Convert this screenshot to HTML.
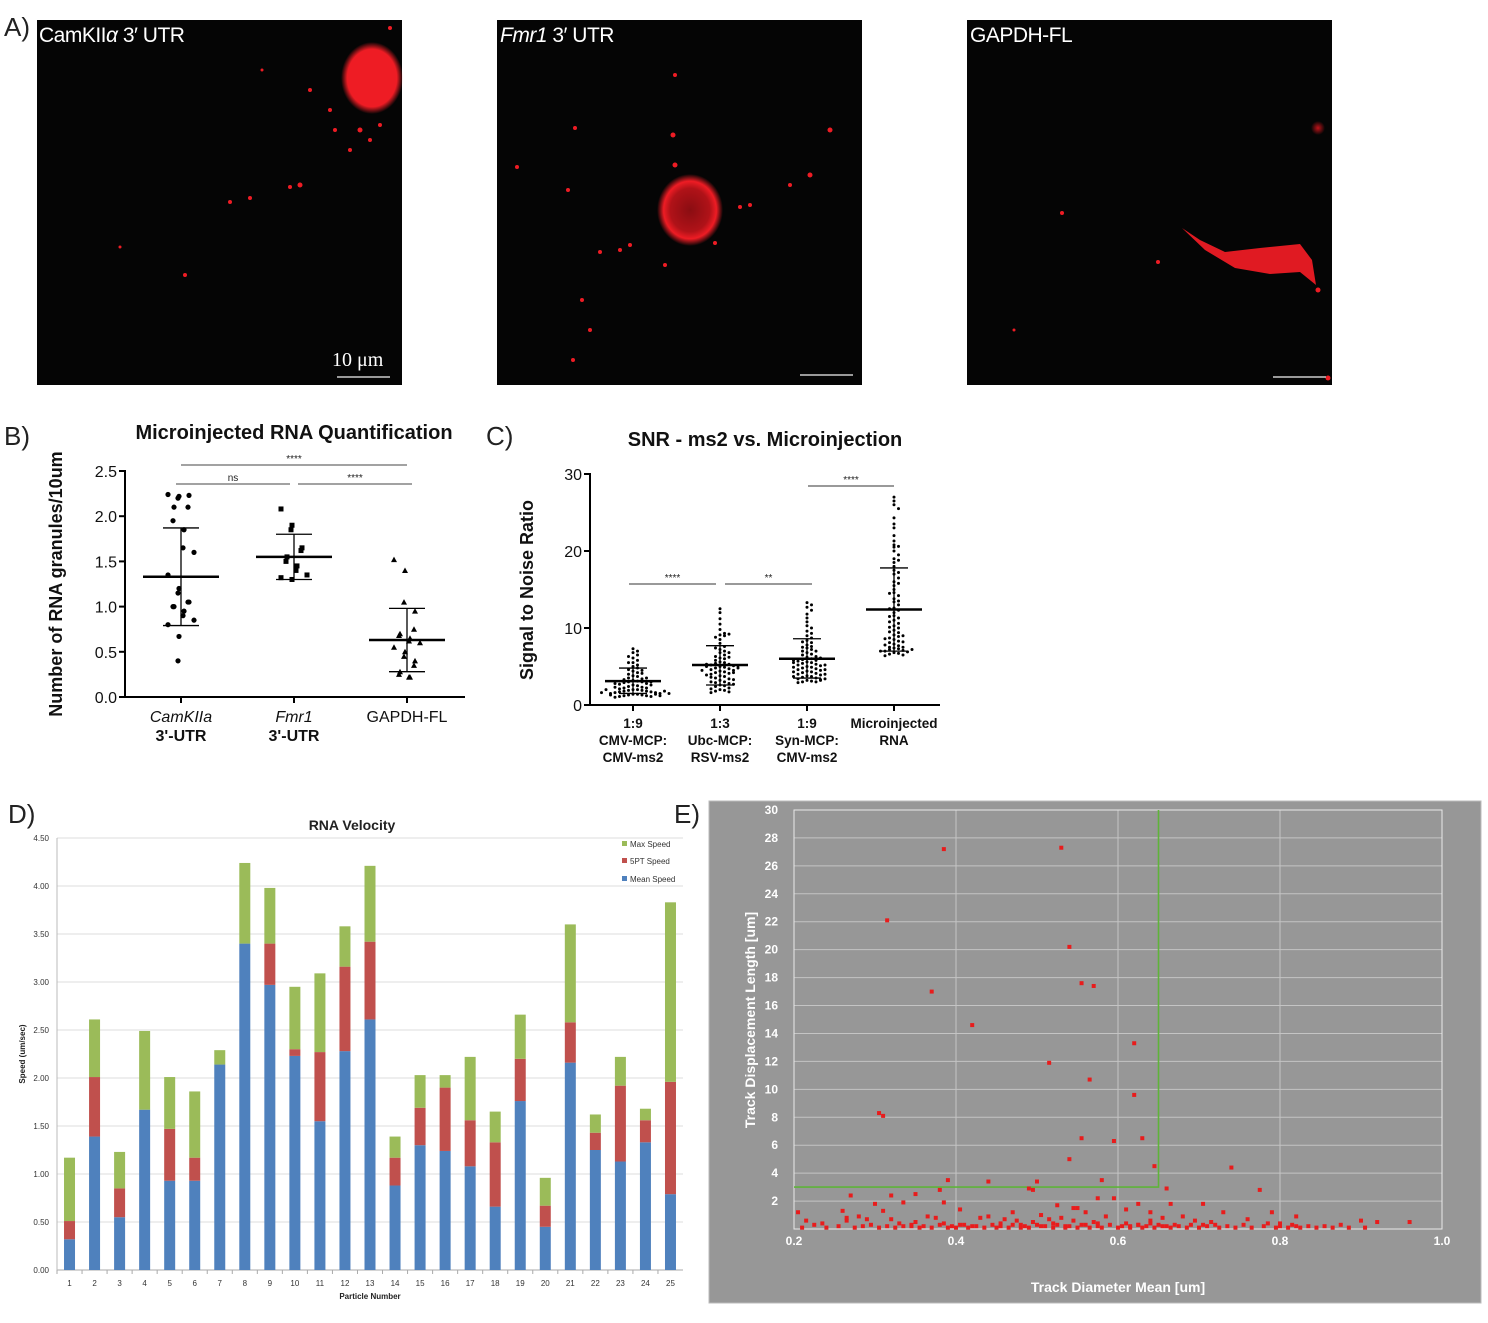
<!DOCTYPE html>
<html><head><meta charset="utf-8"><style>
html,body{margin:0;padding:0;background:#fff;}
svg{display:block;font-family:"Liberation Sans",sans-serif;}
</style></head><body>
<svg id="fig" width="1488" height="1323" viewBox="0 0 1488 1323" xmlns="http://www.w3.org/2000/svg">
<defs>
<radialGradient id="gBlob"><stop offset="0" stop-color="#ee1c24"/><stop offset="0.8" stop-color="#ee1c24"/><stop offset="1" stop-color="#ee1c24" stop-opacity="0"/></radialGradient>
<radialGradient id="gRing"><stop offset="0" stop-color="#8a0d12"/><stop offset="0.6" stop-color="#b01218"/><stop offset="0.8" stop-color="#ee1c24"/><stop offset="1" stop-color="#ee1c24" stop-opacity="0"/></radialGradient>
<radialGradient id="gDim"><stop offset="0" stop-color="#c0141a"/><stop offset="1" stop-color="#c0141a" stop-opacity="0"/></radialGradient>
</defs>
<!-- Panel A -->
<g>
<text x="4" y="36" font-size="26" fill="#222">A)</text>
<rect x="37" y="20" width="365" height="365" fill="#050505"/>
<rect x="497" y="20" width="365" height="365" fill="#050505"/>
<rect x="967" y="20" width="365" height="365" fill="#050505"/>
<ellipse cx="372" cy="78" rx="31" ry="36" fill="url(#gBlob)"/>
<ellipse cx="690" cy="210" rx="33" ry="36" fill="url(#gRing)"/>
<path d="M1182 228 L1200 240 L1225 252 L1260 248 L1300 244 L1312 260 L1316 285 L1300 272 L1270 274 L1235 268 L1205 250 Z" fill="#e01a22"/>
<circle cx="1318" cy="128" r="7" fill="url(#gDim)"/>
<g fill="#ee1c24">
<circle cx="360" cy="130" r="2.5"/><circle cx="350" cy="150" r="2"/><circle cx="370" cy="140" r="2"/><circle cx="380" cy="125" r="2"/><circle cx="310" cy="90" r="2"/><circle cx="300" cy="185" r="2.5"/><circle cx="290" cy="187" r="2"/><circle cx="250" cy="198" r="2"/><circle cx="230" cy="202" r="2"/><circle cx="185" cy="275" r="2"/><circle cx="120" cy="247" r="1.5"/><circle cx="390" cy="28" r="2"/><circle cx="330" cy="110" r="2"/><circle cx="262" cy="70" r="1.5"/><circle cx="335" cy="130" r="2"/>
<circle cx="675" cy="75" r="2"/><circle cx="673" cy="135" r="2.5"/><circle cx="675" cy="165" r="2.5"/><circle cx="830" cy="130" r="2.5"/><circle cx="810" cy="175" r="2.5"/><circle cx="790" cy="185" r="2"/><circle cx="750" cy="205" r="2"/><circle cx="740" cy="207" r="2"/><circle cx="630" cy="245" r="2"/><circle cx="620" cy="250" r="2"/><circle cx="600" cy="252" r="2"/><circle cx="582" cy="300" r="2"/><circle cx="590" cy="330" r="2"/><circle cx="575" cy="128" r="2"/><circle cx="715" cy="243" r="2"/><circle cx="665" cy="265" r="2"/><circle cx="573" cy="360" r="2"/><circle cx="517" cy="167" r="2"/><circle cx="568" cy="190" r="2"/>
<circle cx="1158" cy="262" r="2"/><circle cx="1062" cy="213" r="2"/><circle cx="1318" cy="290" r="2.5"/><circle cx="1328" cy="378" r="2.5"/><circle cx="1014" cy="330" r="1.5"/>
</g>
<text x="39" y="42" font-size="21" fill="#fff" letter-spacing="-0.5">CamKII<tspan font-style="italic">α</tspan> 3′ UTR</text>
<text x="500" y="42" font-size="21" fill="#fff" letter-spacing="-0.5"><tspan font-style="italic">Fmr1</tspan> 3′ UTR</text>
<text x="970" y="42" font-size="21" fill="#fff" letter-spacing="-0.5">GAPDH-FL</text>
<text x="332" y="366" font-size="20" fill="#fff" font-family="Liberation Serif,serif">10 μm</text>
<line x1="337" y1="377" x2="390" y2="377" stroke="#ccc" stroke-width="1.5"/>
<line x1="800" y1="375" x2="853" y2="375" stroke="#ccc" stroke-width="1.5"/>
<line x1="1273" y1="377" x2="1326" y2="377" stroke="#ccc" stroke-width="1.5"/>
</g>
<g id="pB"></g>
<g id="pC"></g>
<g id="pD"></g>
<g id="pE"></g>
</svg>
<script>
// ---------- Panel B data ----------
var bCategories = ["CamKIIa", "Fmr1", "GAPDH-FL"];
var bCamk = [2.24,2.22,2.20,2.23,2.10,2.10,1.95,1.85,1.65,1.60,1.35,1.20,1.15,1.05,1.05,1.00,1.00,0.95,0.90,0.85,0.80,0.67,0.40];
var bFmr1 = [2.08,1.90,1.85,1.65,1.62,1.55,1.50,1.45,1.40,1.35,1.32,1.30];
var bGapdh = [1.52,1.40,1.05,0.95,0.75,0.70,0.68,0.65,0.62,0.60,0.55,0.50,0.45,0.40,0.35,0.28,0.25,0.22,0.22];
var bMeans = [1.33,1.55,0.63];
var bLow = [0.79,1.30,0.28];
var bHigh = [1.87,1.80,0.98];
var bTicks = [0,0.5,1.0,1.5,2.0,2.5];
// ---------- Panel C data ----------
var cMeans = [3.1,5.2,6.0,12.4];
var cLow = [1.5,2.6,3.5,7.0];
var cHigh = [4.8,7.7,8.6,17.8];
var cTicks = [0,10,20,30];
var cG1 = [7.3,7.0,6.8,6.5,6.3,6.1,5.8,5.5,5.2,5.0,4.8,4.6,4.4,4.2,4.0,3.8,3.7,3.5,3.4,3.3,3.2,3.1,3.0,3.0,2.9,2.8,2.7,2.6,2.5,2.4,2.3,2.2,2.2,2.1,2.0,2.0,1.9,1.9,1.8,1.8,1.7,1.7,1.6,1.6,1.5,1.5,1.4,1.4,1.3,1.3,1.2,1.2,1.1,1.1,1.0,2.6,2.3,2.0,1.8,1.6,1.5,1.4,1.3,1.2,3.5,3.0,2.8,4.1,4.5,5.5];
var cG2 = [12.5,12.0,11.2,10.5,9.8,9.3,9.1,9.0,8.8,8.5,8.0,7.6,7.2,7.0,6.8,6.5,6.3,6.1,6.0,5.8,5.6,5.5,5.4,5.3,5.2,5.1,5.0,4.9,4.8,4.7,4.6,4.5,4.4,4.3,4.2,4.1,4.0,3.8,3.7,3.5,3.4,3.2,3.0,2.9,2.8,2.6,2.5,2.4,2.2,2.1,2.0,1.9,1.8,1.7,1.6,5.3,5.1,5.0,4.8,4.5,4.2,3.9,3.6,3.3,3.0,2.7,6.2,6.8,7.4,9.2];
var cG3 = [13.3,13.0,12.7,12.3,11.8,11.3,10.8,10.3,10.0,9.6,9.3,9.0,8.7,8.4,8.1,7.8,7.6,7.4,7.2,7.0,6.8,6.6,6.5,6.3,6.2,6.0,5.9,5.8,5.7,5.6,5.5,5.4,5.3,5.2,5.1,5.0,4.9,4.8,4.7,4.6,4.5,4.4,4.3,4.2,4.1,4.0,3.9,3.8,3.7,3.6,3.5,3.4,3.3,3.2,3.1,3.0,3.0,2.9,6.1,5.8,5.5,5.2,4.9,4.6,4.3,4.0,3.7,3.4,3.2,7.0,7.5,8.2];
var cG4 = [27.0,26.5,26.0,25.5,24.3,23.5,23.0,22.0,21.3,20.8,20.5,20.0,19.5,19.0,18.5,18.0,17.5,17.0,16.5,16.0,15.5,15.0,14.6,14.2,13.8,13.4,13.0,12.6,12.3,12.0,11.6,11.3,11.0,10.6,10.3,10.0,9.7,9.4,9.1,8.9,8.7,8.5,8.3,8.1,7.9,7.7,7.5,7.4,7.3,7.2,7.1,7.0,6.9,6.8,6.7,6.6,6.5,6.4,7.0,7.2,7.5,7.8,8.2,8.6,9.0,9.5,10.1,10.8,11.5,12.5,13.5,14.5,15.8,17.2,18.8,20.6];
// ---------- Panel D data ----------
var dParticles = [1,2,3,4,5,6,7,8,9,10,11,12,13,14,15,16,17,18,19,20,21,22,23,24,25];
var dMean = [0.32,1.39,0.55,1.67,0.93,0.93,2.14,3.40,2.97,2.23,1.55,2.28,2.61,0.88,1.30,1.24,1.08,0.66,1.76,0.45,2.16,1.25,1.13,1.33,0.79];
var d5pt = [0.51,2.01,0.85,1.67,1.47,1.17,2.14,3.40,3.40,2.30,2.27,3.16,3.42,1.17,1.69,1.90,1.56,1.33,2.20,0.67,2.58,1.43,1.92,1.56,1.96];
var dMax = [1.17,2.61,1.23,2.49,2.01,1.86,2.29,4.24,3.98,2.95,3.09,3.58,4.21,1.39,2.03,2.03,2.22,1.65,2.66,0.96,3.60,1.62,2.22,1.68,3.83];
var dTicks = [0,0.5,1.0,1.5,2.0,2.5,3.0,3.5,4.0,4.5];
// ---------- Panel E data ----------
var eTicksX = [0.2,0.4,0.6,0.8,1.0];
var eTicksY = [2,4,6,8,10,12,14,16,18,20,22,24,26,28,30];
var eX = [0.385,0.53,0.315,0.54,0.37,0.555,0.57,0.42,0.62,0.515,0.565,0.62,0.305,0.31,0.555,0.595,0.63,0.54,0.645,0.74,0.39,0.44,0.50,0.58,0.38,0.49,0.495,0.775,0.27,0.32,0.35,0.66,0.575,0.595,0.30,0.335,0.385,0.525,0.545,0.55,0.625,0.665,0.705,0.205,0.26,0.29,0.31,0.405,0.43,0.47,0.505,0.56,0.61,0.64,0.73,0.79,0.82,0.90,0.96,
0.21,0.225,0.24,0.255,0.265,0.275,0.285,0.295,0.305,0.315,0.325,0.335,0.345,0.355,0.36,0.37,0.38,0.39,0.395,0.40,0.41,0.415,0.425,0.435,0.445,0.45,0.455,0.465,0.47,0.48,0.485,0.49,0.50,0.51,0.52,0.525,0.535,0.54,0.55,0.56,0.565,0.575,0.58,0.59,0.60,0.605,0.615,0.625,0.63,0.635,0.645,0.65,0.655,0.665,0.675,0.685,0.69,0.70,0.71,0.72,0.725,0.735,0.745,0.755,0.765,0.78,0.785,0.795,0.80,0.81,0.815,0.825,0.835,0.845,0.855,0.865,0.875,0.885,0.905,0.92,
0.215,0.235,0.265,0.28,0.32,0.35,0.365,0.375,0.44,0.46,0.475,0.495,0.515,0.53,0.545,0.57,0.585,0.61,0.64,0.655,0.68,0.695,0.715,0.76,0.80,0.82,
0.33,0.345,0.385,0.405,0.42,0.455,0.48,0.505,0.52,0.535,0.555,0.575,0.615,0.625,0.64,0.66,0.67,0.705];
var eY = [27.2,27.3,22.1,20.2,17.0,17.6,17.4,14.6,13.3,11.9,10.7,9.6,8.3,8.1,6.5,6.3,6.5,5.0,4.5,4.4,3.5,3.4,3.4,3.5,2.8,2.9,2.8,2.8,2.4,2.4,2.5,2.9,2.2,2.2,1.8,1.9,1.9,1.7,1.5,1.5,1.8,1.8,1.8,1.2,1.3,0.7,1.3,1.4,0.8,1.2,1.0,1.2,1.4,1.2,1.2,1.2,0.9,0.6,0.5,
0.1,0.3,0.1,0.2,0.6,0.1,0.2,0.3,0.1,0.2,0.1,0.2,0.3,0.1,0.2,0.1,0.3,0.1,0.2,0.1,0.3,0.1,0.2,0.1,0.3,0.1,0.2,0.1,0.3,0.1,0.2,0.1,0.3,0.2,0.1,0.3,0.1,0.2,0.1,0.3,0.1,0.2,0.1,0.3,0.1,0.2,0.1,0.3,0.1,0.2,0.1,0.3,0.2,0.1,0.2,0.1,0.3,0.1,0.2,0.3,0.1,0.2,0.1,0.3,0.1,0.2,0.4,0.1,0.2,0.1,0.3,0.1,0.2,0.1,0.2,0.1,0.3,0.1,0.1,
0.5,0.6,0.4,0.8,0.9,0.7,0.5,0.9,0.8,0.9,0.7,0.6,0.5,0.7,0.8,0.6,0.5,0.9,0.4,0.6,0.8,0.9,0.6,0.5,0.7,0.4,
0.2,0.4,0.2,0.4,0.3,0.2,0.4,0.3,0.2,0.4,0.2,0.3,0.4,0.2,0.3,0.4,0.2,0.3,0.3];

var NS = "http://www.w3.org/2000/svg";
function mk(parent, tag, attrs, text){
  var e = document.createElementNS(NS, tag);
  for (var k in attrs) e.setAttribute(k, attrs[k]);
  if (text !== undefined) e.textContent = text;
  parent.appendChild(e);
  return e;
}

// ================= Panel B =================
(function(){
  var g = document.getElementById('pB');
  var x0 = 125, y0 = 697, yTop = 471, yMax = 2.5;
  function yS(v){ return y0 - v/yMax*(y0-yTop); }
  var cx = [181, 294, 407];
  var t = mk(g,'text',{x:4,y:445,'font-size':26,fill:'#222'},'B)');
   
  t = mk(g,'text',{x:294,y:439,'font-size':20,'font-weight':'bold','text-anchor':'middle',fill:'#111'},'Microinjected RNA Quantification');
   
  t = mk(g,'text',{x:62,y:584,'font-size':18,'font-weight':'bold','text-anchor':'middle',fill:'#111',transform:'rotate(-90 62 584)'},'Number of  RNA granules/10um');
   
  var ax = mk(g,'path',{d:'M'+x0+' '+(yTop-1)+' V'+y0+' H465',stroke:'#000','stroke-width':2,fill:'none'});
   
  bTicks.forEach(function(v){
    var y = yS(v);
    var l = mk(g,'line',{x1:x0-6,y1:y,x2:x0,y2:y,stroke:'#000','stroke-width':2});
     
    var tl = mk(g,'text',{x:x0-8,y:y+6,'font-size':16,'text-anchor':'end',fill:'#111'},v.toFixed(1));
     
  });
  var labels = [['CamKIIa','3\'-UTR',true],['Fmr1','3\'-UTR',true],['GAPDH-FL','',false]];
  cx.forEach(function(x,i){
    var l = mk(g,'line',{x1:x,y1:y0,x2:x,y2:y0+6,stroke:'#000','stroke-width':2});
     
    var a = mk(g,'text',{x:x,y:722,'font-size':16,'text-anchor':'middle',fill:'#111','font-style':labels[i][2]?'italic':'normal'},labels[i][0]);
     
    if (labels[i][1]) { var b2 = mk(g,'text',{x:x,y:741,'font-size':16,'text-anchor':'middle','font-weight':'bold',fill:'#111'},labels[i][1]);
        }
  });
  var groups = [bCamk,bFmr1,bGapdh];
  groups.forEach(function(arr,gi){
    arr.forEach(function(v,i){
      var off = ((i%5)-2)*5 + ((i%2)?3:-3);
      var px = cx[gi]+off, py = yS(v), m;
      if (gi===0) m = mk(g,'circle',{cx:px,cy:py,r:2.6,fill:'#000'});
      else if (gi===1) m = mk(g,'rect',{x:px-2.5,y:py-2.5,width:5,height:5,fill:'#000'});
      else m = mk(g,'path',{d:'M'+px+' '+(py-3)+' L'+(px+3)+' '+(py+2.5)+' L'+(px-3)+' '+(py+2.5)+' Z',fill:'#000'});
       
    });
    var mn = mk(g,'line',{x1:cx[gi]-38,x2:cx[gi]+38,y1:yS(bMeans[gi]),y2:yS(bMeans[gi]),stroke:'#000','stroke-width':2.5});
     
    var e = mk(g,'path',{d:'M'+cx[gi]+' '+yS(bLow[gi])+' V'+yS(bHigh[gi])+' M'+(cx[gi]-18)+' '+yS(bLow[gi])+' h36 M'+(cx[gi]-18)+' '+yS(bHigh[gi])+' h36',stroke:'#000','stroke-width':1.3,fill:'none'});
     
  });
  var sig = [[181,407,465,'****'],[176,290,484,'ns'],[298,412,484,'****']];
  sig.forEach(function(s){
    var l = mk(g,'line',{x1:s[0],x2:s[1],y1:s[2],y2:s[2],stroke:'#444','stroke-width':1});
     
    var tx = mk(g,'text',{x:(s[0]+s[1])/2,y:s[2]-3,'font-size':10,'text-anchor':'middle',fill:'#222'},s[3]);
     
  });
})();

// ================= Panel C =================
(function(){
  var g = document.getElementById('pC');
  var x0 = 590, y0 = 705, yTop = 474, yMax = 30;
  function yS(v){ return y0 - v/yMax*(y0-yTop); }
  var cx = [633,720,807,894];
  var t = mk(g,'text',{x:486,y:445,'font-size':26,fill:'#222'},'C)');
   
  t = mk(g,'text',{x:765,y:446,'font-size':20,'font-weight':'bold','text-anchor':'middle',fill:'#111'},'SNR - ms2 vs. Microinjection');
   
  t = mk(g,'text',{x:533,y:590,'font-size':18,'font-weight':'bold','text-anchor':'middle',fill:'#111',transform:'rotate(-90 533 590)'},'Signal to Noise  Ratio');
   
  var ax = mk(g,'path',{d:'M'+x0+' '+(yTop-1)+' V'+y0+' H940',stroke:'#000','stroke-width':2,fill:'none'});
   
  cTicks.forEach(function(v){
    var y = yS(v);
    var l = mk(g,'line',{x1:x0-6,y1:y,x2:x0,y2:y,stroke:'#000','stroke-width':2});
     
    var tl = mk(g,'text',{x:x0-8,y:y+6,'font-size':16,'text-anchor':'end',fill:'#111'},String(v));
     
  });
  var labs = [['1:9','CMV-MCP:','CMV-ms2'],['1:3','Ubc-MCP:','RSV-ms2'],['1:9','Syn-MCP:','CMV-ms2'],['Microinjected','RNA','']];
  cx.forEach(function(x,i){
    var l = mk(g,'line',{x1:x,y1:y0,x2:x,y2:y0+6,stroke:'#000','stroke-width':2});
     
    labs[i].forEach(function(s,j){ if(!s) return;
      var a = mk(g,'text',{x:x,y:728+j*17,'font-size':13.5,'font-weight':'bold','text-anchor':'middle',fill:'#111'},s);
        });
  });
  [cG1,cG2,cG3,cG4].forEach(function(arr,gi){
    var bins = {};
    arr.forEach(function(v){
      var b = Math.round(v/0.6);
      var k = bins[b] || 0; bins[b] = k+1;
      var off = (k%2 ? 1 : -1) * Math.ceil(k/2) * 4.5;
      var c = mk(g,'circle',{cx:cx[gi]+off,cy:yS(v),r:1.5,fill:'#000'});
       
    });
    var mn = mk(g,'line',{x1:cx[gi]-28,x2:cx[gi]+28,y1:yS(cMeans[gi]),y2:yS(cMeans[gi]),stroke:'#000','stroke-width':2.5});
     
    var e = mk(g,'path',{d:'M'+cx[gi]+' '+yS(cLow[gi])+' V'+yS(cHigh[gi])+' M'+(cx[gi]-14)+' '+yS(cLow[gi])+' h28 M'+(cx[gi]-14)+' '+yS(cHigh[gi])+' h28',stroke:'#000','stroke-width':1.3,fill:'none'});
     
  });
  var sig = [[629,716,584,'****'],[725,812,584,'**'],[808,894,486,'****']];
  sig.forEach(function(s){
    var l = mk(g,'line',{x1:s[0],x2:s[1],y1:s[2],y2:s[2],stroke:'#333','stroke-width':1});
     
    var tx = mk(g,'text',{x:(s[0]+s[1])/2,y:s[2]-3,'font-size':10,'text-anchor':'middle',fill:'#222'},s[3]);
     
  });
})();

// ================= Panel D =================
(function(){
  var g = document.getElementById('pD');
  var xL = 57, xR = 683, y0 = 1270, yTop = 838, yMax = 4.5;
  function yS(v){ return y0 - v/yMax*(y0-yTop); }
  var step = (xR-xL)/dParticles.length;
  function xC(i){ return xL + step*(i+0.5); }
  var t = mk(g,'text',{x:8,y:823,'font-size':26,fill:'#222'},'D)');
   
  t = mk(g,'text',{x:352,y:830,'font-size':14,'font-weight':'bold','text-anchor':'middle',fill:'#222'},'RNA Velocity');
   
  dTicks.forEach(function(v){
    var y = yS(v);
    var l = mk(g,'line',{x1:xL,x2:xR,y1:y,y2:y,stroke:v===0?'#aaa':'#ddd','stroke-width':1});
     
    var tl = mk(g,'text',{x:xL-8,y:y+3,'font-size':8,'text-anchor':'end',fill:'#333'},v.toFixed(2));
     
  });
  var ax = mk(g,'line',{x1:xL,x2:xL,y1:yTop,y2:y0,stroke:'#bbb','stroke-width':1});
   
  t = mk(g,'text',{x:25,y:1054,'font-size':8,'font-weight':'bold','text-anchor':'middle',fill:'#222',transform:'rotate(-90 25 1054)'},'Speed (um/sec)');
   
  t = mk(g,'text',{x:370,y:1299,'font-size':8,'font-weight':'bold','text-anchor':'middle',fill:'#222'},'Particle Number');
   
  var bw = 11;
  dParticles.forEach(function(p,i){
    var x = xC(i)-bw/2;
    var r1 = mk(g,'rect',{x:x,y:yS(dMean[i]),width:bw,height:y0-yS(dMean[i]),fill:'#4f81bd'});
     
    var r2 = mk(g,'rect',{x:x,y:yS(d5pt[i]),width:bw,height:yS(dMean[i])-yS(d5pt[i]),fill:'#c0504d'});
     
    var r3 = mk(g,'rect',{x:x,y:yS(dMax[i]),width:bw,height:yS(d5pt[i])-yS(dMax[i]),fill:'#9bbb59'});
     
    var tl = mk(g,'text',{x:xC(i),y:1286,'font-size':8,'text-anchor':'middle',fill:'#333'},String(p));
     
    var tk = mk(g,'line',{x1:xL+step*i,x2:xL+step*i,y1:y0,y2:y0+4,stroke:'#aaa'});
     
  });
  var leg = [['#9bbb59','Max Speed',845],['#c0504d','5PT Speed',862],['#4f81bd','Mean Speed',880]];
  leg.forEach(function(L){
    var s = mk(g,'rect',{x:622,y:L[2]-4,width:5,height:5,fill:L[0]});
     
    var tx = mk(g,'text',{x:630,y:L[2]+2,'font-size':8,fill:'#333'},L[1]);
     
  });
})();

// ================= Panel E =================
(function(){
  var g = document.getElementById('pE');
  var xL = 794, xR = 1442, y0 = 1229, yTop = 810;
  function xS(v){ return xL + (v-0.2)/0.8*(xR-xL); }
  function yS(v){ return y0 - v/30*(y0-yTop); }
  var t = mk(g,'text',{x:674,y:823,'font-size':26,fill:'#222'},'E)');
   
  var bg = mk(g,'rect',{x:709,y:801,width:772,height:502,fill:'#979797',stroke:'#bbb'});
   
  eTicksY.forEach(function(v){
    var l = mk(g,'line',{x1:xL,x2:xR,y1:yS(v),y2:yS(v),stroke:'#c4c4c4','stroke-width':1});
     
    var tl = mk(g,'text',{x:778,y:yS(v)+4,'font-size':12,'font-weight':'bold','text-anchor':'end',fill:'#fff'},String(v));
     
  });
  eTicksX.forEach(function(v){
    var l = mk(g,'line',{x1:xS(v),x2:xS(v),y1:yTop,y2:y0,stroke:'#c4c4c4','stroke-width':1});
     
    var tl = mk(g,'text',{x:xS(v),y:1245,'font-size':12,'font-weight':'bold','text-anchor':'middle',fill:'#fff'},v.toFixed(1));
     
  });
  var fr = mk(g,'rect',{x:xL,y:yTop,width:xR-xL,height:y0-yTop,fill:'none',stroke:'#e8e8e8','stroke-width':1});
   
  var gl = mk(g,'path',{d:'M'+xL+' '+yS(3)+' H'+xS(0.65)+' V'+yTop,stroke:'#5fb33a','stroke-width':1.6,fill:'none'});
   
  var n = Math.min(eX.length, eY.length);
  for (var i = 0; i < n; i++) {
    var p = mk(g,'rect',{x:xS(eX[i])-2,y:yS(eY[i])-2,width:4,height:4,fill:'#e81c1c'});
     
  }
  t = mk(g,'text',{x:1118,y:1292,'font-size':14,'font-weight':'bold','text-anchor':'middle',fill:'#fff'},'Track Diameter Mean [um]');
   
  t = mk(g,'text',{x:755,y:1020,'font-size':14,'font-weight':'bold','text-anchor':'middle',fill:'#fff',transform:'rotate(-90 755 1020)'},'Track Displacement Length [um]');
   
})();
</script>
</body></html>
